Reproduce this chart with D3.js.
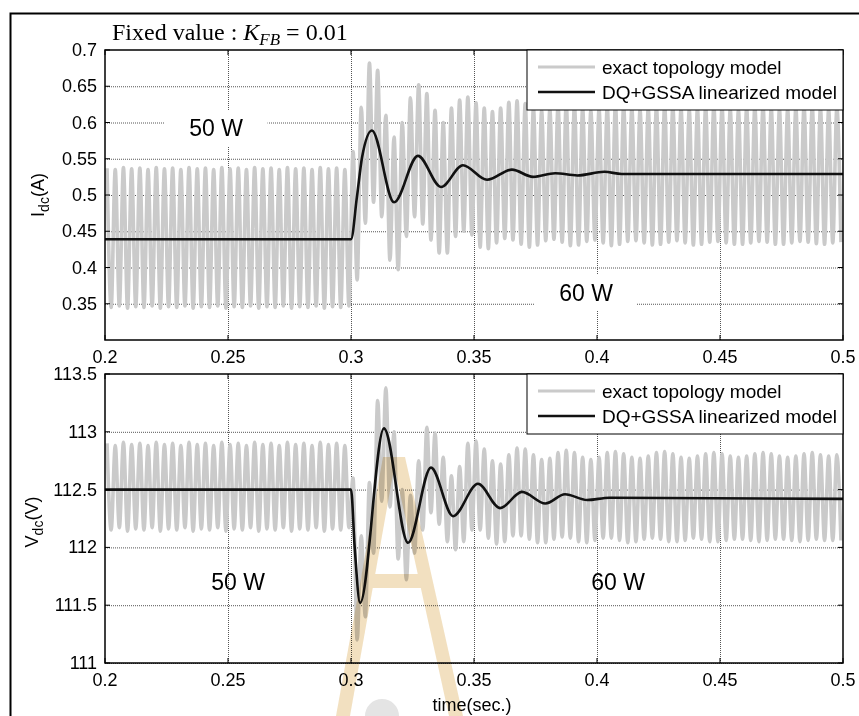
<!DOCTYPE html>
<html>
<head>
<meta charset="utf-8">
<script src="https://cdn.jsdelivr.net/npm/d3@7"></script>
<style>
  body { margin: 0; background: #fff; }
  svg { display: block; font-family: "Liberation Sans", Arial, sans-serif; }
</style>
</head>
<body>
<div id="chart"></div>
<script>
// axis ticks
const timeTicks = [0.2, 0.25, 0.3, 0.35, 0.4, 0.45, 0.5];
const idcTicks = [0.35, 0.4, 0.45, 0.5, 0.55, 0.6, 0.65, 0.7];
const vdcTicks = [111, 111.5, 112, 112.5, 113, 113.5];

// exact topology model: peak and trough of every ripple cycle, one cycle = 1/300 s from t = 0.2
const ripplePeriod = 1 / 300;
const idcExactHi = [
  0.537, 0.535, 0.538, 0.536, 0.537, 0.535, 0.538, 0.536, 0.537, 0.535,
  0.538, 0.536, 0.537, 0.535, 0.538, 0.536, 0.537, 0.535, 0.538, 0.536,
  0.537, 0.535, 0.538, 0.536, 0.537, 0.535, 0.538, 0.536, 0.537, 0.535,
  0.560, 0.621, 0.682, 0.672, 0.610, 0.580, 0.600, 0.634, 0.652, 0.640,
  0.617, 0.600, 0.620, 0.631, 0.635, 0.627, 0.620, 0.615, 0.620, 0.628,
  0.630, 0.626, 0.620, 0.616, 0.618, 0.623, 0.626, 0.624, 0.619, 0.616,
  0.618, 0.622, 0.625, 0.623, 0.619, 0.617, 0.619, 0.622, 0.624, 0.622,
  0.619, 0.617, 0.619, 0.622, 0.623, 0.621, 0.618, 0.617, 0.620, 0.622,
  0.623, 0.620, 0.618, 0.618, 0.620, 0.622, 0.622, 0.620, 0.618, 0.619
];
const idcExactLo = [
  0.345, 0.347, 0.344, 0.346, 0.345, 0.347, 0.344, 0.346, 0.345, 0.347,
  0.344, 0.346, 0.345, 0.347, 0.344, 0.346, 0.345, 0.347, 0.344, 0.346,
  0.345, 0.347, 0.344, 0.346, 0.345, 0.347, 0.344, 0.346, 0.345, 0.347,
  0.383, 0.461, 0.490, 0.470, 0.410, 0.397, 0.443, 0.470, 0.460, 0.438,
  0.420, 0.420, 0.443, 0.450, 0.445, 0.428, 0.426, 0.434, 0.440, 0.438,
  0.432, 0.428, 0.431, 0.437, 0.439, 0.435, 0.430, 0.431, 0.436, 0.438,
  0.434, 0.430, 0.432, 0.436, 0.437, 0.434, 0.431, 0.432, 0.435, 0.437,
  0.434, 0.431, 0.432, 0.435, 0.436, 0.434, 0.432, 0.432, 0.434, 0.436,
  0.435, 0.432, 0.432, 0.434, 0.436, 0.435, 0.433, 0.432, 0.434, 0.435
];
const vdcExactHi = [
  112.90, 112.88, 112.91, 112.89, 112.90, 112.88, 112.91, 112.89, 112.90, 112.88,
  112.91, 112.89, 112.90, 112.88, 112.91, 112.89, 112.90, 112.88, 112.91, 112.89,
  112.90, 112.88, 112.91, 112.89, 112.90, 112.88, 112.91, 112.89, 112.90, 112.88,
  112.60, 112.10, 112.56, 113.27, 113.38, 113.00, 112.50, 112.45, 112.75, 113.04,
  112.99, 112.78, 112.62, 112.70, 112.90, 112.92, 112.85, 112.75, 112.72, 112.80,
  112.86, 112.85, 112.80, 112.76, 112.77, 112.82, 112.84, 112.82, 112.78, 112.76,
  112.78, 112.82, 112.83, 112.81, 112.78, 112.77, 112.79, 112.82, 112.83, 112.81,
  112.78, 112.77, 112.79, 112.81, 112.82, 112.81, 112.79, 112.78, 112.79, 112.81,
  112.82, 112.81, 112.79, 112.78, 112.79, 112.81, 112.82, 112.80, 112.79, 112.80
];
const vdcExactLo = [
  112.15, 112.17, 112.14, 112.16, 112.15, 112.17, 112.14, 112.16, 112.15, 112.17,
  112.14, 112.16, 112.15, 112.17, 112.14, 112.16, 112.15, 112.17, 112.14, 112.16,
  112.15, 112.17, 112.14, 112.16, 112.15, 112.17, 112.14, 112.16, 112.15, 112.17,
  111.20, 111.40, 111.95, 112.40, 112.35, 111.90, 111.72, 111.95, 112.15, 112.30,
  112.20, 112.05, 111.98, 112.05, 112.15, 112.15, 112.08, 112.03, 112.05, 112.10,
  112.10, 112.07, 112.04, 112.04, 112.07, 112.09, 112.08, 112.05, 112.04, 112.06,
  112.08, 112.08, 112.06, 112.04, 112.05, 112.07, 112.08, 112.07, 112.05, 112.05,
  112.06, 112.08, 112.07, 112.05, 112.05, 112.06, 112.07, 112.07, 112.06, 112.05,
  112.06, 112.07, 112.07, 112.06, 112.05, 112.06, 112.07, 112.06, 112.06, 112.06
];

// DQ+GSSA linearized model: turning points of the response
const idcModelT = [0.2, 0.3, 0.3024, 0.3045, 0.3085, 0.3175, 0.3272, 0.3366, 0.3455, 0.3553, 0.3654, 0.374, 0.383, 0.392, 0.403, 0.41, 0.5];
const idcModelV = [0.439, 0.439, 0.497, 0.552, 0.589, 0.490, 0.554, 0.511, 0.541, 0.521, 0.535, 0.525, 0.530, 0.527, 0.532, 0.529, 0.529];
const vdcModelT = [0.2, 0.3, 0.3015, 0.3037, 0.3134, 0.3232, 0.3325, 0.3415, 0.3516, 0.3606, 0.3695, 0.379, 0.387, 0.396, 0.405, 0.5];
const vdcModelV = [112.5, 112.5, 112.0, 111.52, 113.03, 112.04, 112.69, 112.27, 112.55, 112.34, 112.48, 112.38, 112.46, 112.41, 112.43, 112.42];

const legendNames = ["exact topology model", "DQ+GSSA linearized model"];

const width = 859, height = 716;
const svg = d3.select('#chart').append('svg')
  .attr('width', width)
  .attr('height', height);

// outer frame (cut off at the right and bottom like the source figure)
svg.append('rect')
  .attr('x', 10.5).attr('y', 13.5)
  .attr('width', 900).attr('height', 800)
  .attr('fill', 'none')
  .attr('stroke', '#000')
  .attr('stroke-width', 2);

const x = d3.scaleLinear().domain([0.2, 0.5]).range([105, 843]);

function ripplePoints(hi, lo) {
  const pts = [];
  hi.forEach((h, i) => {
    pts.push([0.2 + (i + 0.25) * ripplePeriod, h]);
    pts.push([0.2 + (i + 0.75) * ripplePeriod, lo[i]]);
  });
  return pts;
}

function drawPanel(cfg) {
  const y = d3.scaleLinear().domain(cfg.domain).range([cfg.bottom, cfg.top]);
  const g = svg.append('g');
  const clipId = 'clip' + cfg.id;

  g.append('clipPath').attr('id', clipId)
    .append('rect')
    .attr('x', x.range()[0]).attr('y', cfg.top)
    .attr('width', x.range()[1] - x.range()[0])
    .attr('height', cfg.bottom - cfg.top);

  g.append('rect')
    .attr('x', x.range()[0]).attr('y', cfg.top)
    .attr('width', x.range()[1] - x.range()[0])
    .attr('height', cfg.bottom - cfg.top)
    .attr('fill', '#fff');

  // grid
  g.append('g')
    .attr('transform', `translate(0,${cfg.bottom})`)
    .call(d3.axisBottom(x).tickValues(timeTicks.slice(1, -1)).tickSize(-(cfg.bottom - cfg.top)).tickFormat(''))
    .call(a => a.select('.domain').remove())
    .call(a => a.selectAll('line').attr('stroke', '#555').attr('stroke-dasharray', '1,1'));
  g.append('g')
    .attr('transform', `translate(${x.range()[0]},0)`)
    .call(d3.axisLeft(y).tickValues(cfg.ticks.filter(v => v < cfg.domain[1])).tickSize(-(x.range()[1] - x.range()[0])).tickFormat(''))
    .call(a => a.select('.domain').remove())
    .call(a => a.selectAll('line').attr('stroke', '#555').attr('stroke-dasharray', '1,1'));

  // annotation labels with white boxes over the grid
  cfg.notes.forEach(n => {
    if (n.box) {
      g.append('rect')
        .attr('x', n.x - n.box / 2).attr('y', n.y - 18)
        .attr('width', n.box).attr('height', 36)
        .attr('fill', '#fff');
    }
    g.append('text')
      .attr('x', n.x).attr('y', n.y)
      .attr('text-anchor', 'middle')
      .attr('dominant-baseline', 'central')
      .attr('font-size', 23)
      .text(n.text);
  });

  const plot = g.append('g').attr('clip-path', `url(#${clipId})`);

  plot.append('path')
    .datum(ripplePoints(cfg.hi, cfg.lo))
    .attr('fill', 'none')
    .attr('stroke', '#cacaca')
    .attr('stroke-width', 3.6)
    .attr('stroke-linejoin', 'round')
    .attr('d', d3.line().x(d => x(d[0])).y(d => y(d[1])).curve(d3.curveMonotoneX));

  plot.append('path')
    .datum(cfg.modelT.map((t, i) => [t, cfg.modelV[i]]))
    .attr('fill', 'none')
    .attr('stroke', '#111')
    .attr('stroke-width', 2.6)
    .attr('d', d3.line().x(d => x(d[0])).y(d => y(d[1])).curve(d3.curveMonotoneX));

  // axes box with inward ticks
  g.append('rect')
    .attr('x', x.range()[0]).attr('y', cfg.top)
    .attr('width', x.range()[1] - x.range()[0])
    .attr('height', cfg.bottom - cfg.top)
    .attr('fill', 'none')
    .attr('stroke', '#000')
    .attr('stroke-width', 1.5);

  const tickLen = 5;
  timeTicks.forEach(t => {
    g.append('line').attr('x1', x(t)).attr('x2', x(t)).attr('y1', cfg.bottom).attr('y2', cfg.bottom - tickLen).attr('stroke', '#000');
    g.append('line').attr('x1', x(t)).attr('x2', x(t)).attr('y1', cfg.top).attr('y2', cfg.top + tickLen).attr('stroke', '#000');
    g.append('text')
      .attr('x', x(t)).attr('y', cfg.bottom + 23)
      .attr('text-anchor', 'middle')
      .attr('font-size', 18)
      .text(t);
  });
  cfg.ticks.forEach(v => {
    g.append('line').attr('x1', x.range()[0]).attr('x2', x.range()[0] + tickLen).attr('y1', y(v)).attr('y2', y(v)).attr('stroke', '#000');
    g.append('line').attr('x1', x.range()[1]).attr('x2', x.range()[1] - tickLen).attr('y1', y(v)).attr('y2', y(v)).attr('stroke', '#000');
    g.append('text')
      .attr('x', 97).attr('y', y(v))
      .attr('text-anchor', 'end')
      .attr('dominant-baseline', 'central')
      .attr('font-size', 18)
      .text(v);
  });

  // y label
  const yl = g.append('text')
    .attr('transform', `translate(${cfg.labelX},${cfg.labelY}) rotate(-90)`)
    .attr('text-anchor', 'middle')
    .attr('font-size', 18);
  yl.append('tspan').text(cfg.label[0]);
  yl.append('tspan').attr('dy', 5).attr('font-size', 14).text(cfg.label[1]);
  yl.append('tspan').attr('dy', -5).text(cfg.label[2]);

  // legend
  const lg = g.append('g');
  lg.append('rect')
    .attr('x', 527).attr('y', cfg.top)
    .attr('width', x.range()[1] - 527).attr('height', 60)
    .attr('fill', '#fff')
    .attr('stroke', '#000');
  legendNames.forEach((name, i) => {
    const ly = cfg.top + 17 + i * 25;
    lg.append('line')
      .attr('x1', 538).attr('x2', 595).attr('y1', ly).attr('y2', ly)
      .attr('stroke', i === 0 ? '#cacaca' : '#111')
      .attr('stroke-width', i === 0 ? 3 : 2.6);
    lg.append('text')
      .attr('x', 602).attr('y', ly)
      .attr('dominant-baseline', 'central')
      .attr('font-size', 19)
      .text(name);
  });
}

drawPanel({
  id: 'idc', top: 50, bottom: 340, domain: [0.3, 0.7], ticks: idcTicks,
  hi: idcExactHi, lo: idcExactLo, modelT: idcModelT, modelV: idcModelV,
  label: ['I', 'dc', '(A)'], labelX: 44, labelY: 195,
  notes: [{ text: '50 W', x: 216, y: 128, box: 103 }, { text: '60 W', x: 586, y: 293, box: 102 }]
});

drawPanel({
  id: 'vdc', top: 374, bottom: 663, domain: [111, 113.5], ticks: vdcTicks,
  hi: vdcExactHi, lo: vdcExactLo, modelT: vdcModelT, modelV: vdcModelV,
  label: ['V', 'dc', '(V)'], labelX: 38, labelY: 522,
  notes: [{ text: '50 W', x: 238, y: 582 }, { text: '60 W', x: 618, y: 582 }]
});

svg.append('text')
  .attr('x', 472).attr('y', 711)
  .attr('text-anchor', 'middle')
  .attr('font-size', 18)
  .text('time(sec.)');

// faint watermark of the source page (tan "A" with a ball below)
const wm = svg.append('g')
  .attr('opacity', 0.35)
  .style('mix-blend-mode', 'multiply');
[
  [[383, 457], [396, 457], [350, 716], [336, 716]],
  [[392, 457], [405, 457], [463, 716], [449, 716]],
  [[367, 574], [426, 574], [429, 588], [364, 588]]
].forEach(p => {
  wm.append('polygon')
    .attr('points', p.map(q => q.join(',')).join(' '))
    .attr('fill', '#d9a64a');
});
wm.append('circle')
  .attr('cx', 382).attr('cy', 716).attr('r', 17)
  .attr('fill', '#b0b0b0');

// title
const title = svg.append('text')
  .attr('x', 112).attr('y', 40)
  .attr('font-family', '"Liberation Serif", "Times New Roman", serif')
  .attr('font-size', 24);
title.append('tspan').text('Fixed value : ');
title.append('tspan').attr('font-style', 'italic').text('K');
title.append('tspan').attr('font-style', 'italic').attr('font-size', 17).attr('dy', 5).text('FB');
title.append('tspan').attr('dy', -5).text(' = 0.01');
</script>
</body>
</html>
